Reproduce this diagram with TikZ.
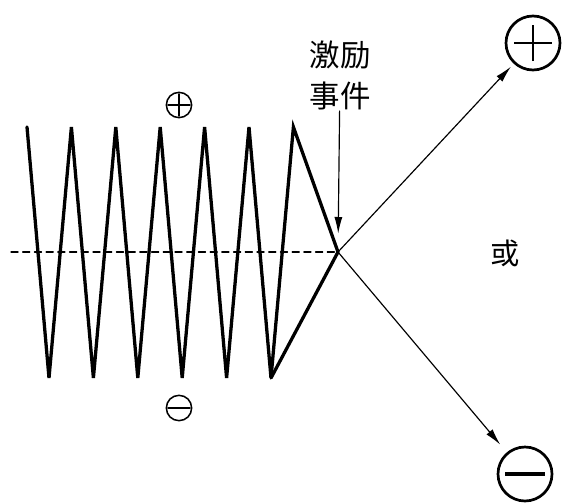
\documentclass[tikz,border=0pt]{standalone}
\usepackage{fontspec}
\newfontfamily\cjk{Noto Sans CJK SC}
\usetikzlibrary{arrows.meta}
\tikzset{
  wave/.style={line width=2.8pt, line join=miter},
  axis/.style={line width=1.1pt, dash pattern=on 6pt off 4pt},
  ar/.style={line width=1pt, -{Latex[length=5mm,width=2.4mm]}},
  bigsign/.style={circle, draw, line width=2.3pt, minimum size=1.62cm, inner sep=0pt},
  smallsign/.style={circle, draw, line width=1.3pt, minimum size=0.76cm, inner sep=0pt},
  lbl/.style={font=\cjk\fontsize{26}{35}\selectfont, align=center, inner sep=1pt}
}
\begin{document}
\begin{tikzpicture}[x=0.03cm, y=-0.03cm, line cap=round]
	\def\T{127} \def\B{378}
	\useasboundingbox (0,0) rectangle (563,502);
	\coordinate (x0) at (338,252);
	\coordinate (axl) at (11,252);
	% waveform before and after the event
	\draw[axis] (axl) -- (x0);
	\draw[wave] (27,\T) \foreach \k in {0,...,5} { -- ({49+44.4*\k},\B) -- ({71.4+44.4*\k},\T) } -- (x0);
	\coordinate (lowlast) at (271,\B);
	\draw[wave] (lowlast) -- (x0);
	% polarity marks
	\node[smallsign] (up) at (179,105) {};
	\draw[line width=1.3pt] ([xshift=-0.33cm]up.center) -- ([xshift=0.33cm]up.center);
	\draw[line width=1.3pt] ([yshift=-0.33cm]up.center) -- ([yshift=0.33cm]up.center);
	\node[smallsign] (dn) at (179,408) {};
	\draw[line width=1.3pt] ([xshift=-0.33cm]dn.center) -- ([xshift=0.33cm]dn.center);
	% event label
	\node[lbl] (evt) at (340,75) {激励\\事件};
	\draw[ar, shorten >=0.55cm] (evt) -- (x0);
	% the two outcomes
	\node[bigsign] (pos) at (533,43) {};
	\draw[line width=2.4pt, line cap=butt] ([xshift=-0.57cm]pos.center) -- ([xshift=0.57cm]pos.center);
	\draw[line width=2.4pt, line cap=butt] ([yshift=-0.54cm]pos.center) -- ([yshift=0.54cm]pos.center);
	\node[bigsign] (neg) at (525,474) {};
	\draw[line width=2.8pt, line cap=butt] ([xshift=-0.6cm]neg.center) -- ([xshift=0.6cm]neg.center);
	\draw[ar, shorten >=0.12cm] (x0) -- (pos);
	\draw[ar, shorten >=0.3cm] (x0) -- (neg);
	\node[lbl, font=\cjk\fontsize{25}{30}\selectfont] (or) at (505,253) {或};
\end{tikzpicture}
\end{document}
